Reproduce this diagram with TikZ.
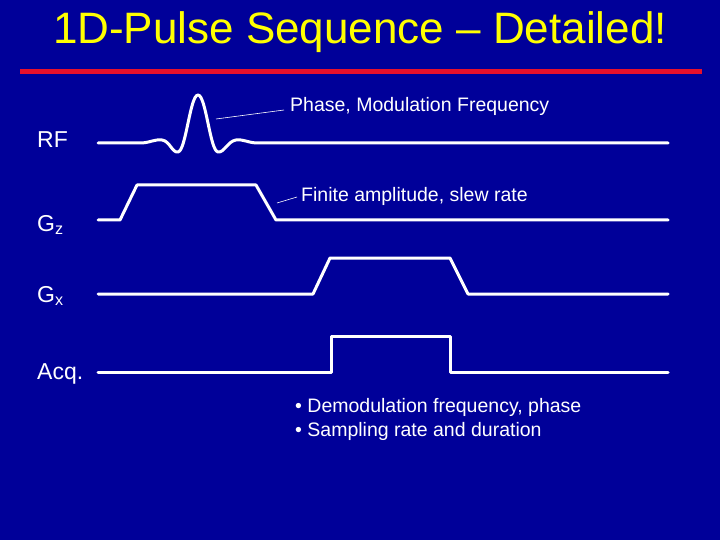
\documentclass[tikz,border=0pt]{standalone}
\usepackage{fontspec}
\setmainfont{Liberation Sans}
\definecolor{bg}{HTML}{000099}
\definecolor{ttl}{HTML}{FFFF00}
\definecolor{redbar}{HTML}{E8102A}
\begin{document}
\begin{tikzpicture}[x=1pt,y=-1pt,
  wave/.style={white,line width=3pt,line join=round,line cap=round},
  lbl/.style={white,font=\fontsize{23}{26}\selectfont,anchor=west,inner sep=0pt},
  note/.style={white,font=\fontsize{19.5}{24}\selectfont,anchor=west,inner sep=0pt},
  lead/.style={white,line width=0.6pt}]
\fill[bg] (0,0) rectangle (720,540);
\useasboundingbox (0,0) rectangle (720,540);
\node[ttl,font=\fontsize{44}{48}\selectfont] (title) at (360,32) {1D-Pulse Sequence -- Detailed!};
\draw[redbar,line width=5pt] (20,72) -- (702,72);
% RF
\node[lbl] (rf) at (37,140) {RF};
\draw[wave] (98,143) -- (140,143) .. controls (150,143) and (154,139) .. (162,140)
  .. controls (170,141) and (172,153) .. (178,152)
  .. controls (186,151) and (190,95) .. (198,95)
  .. controls (206,95) and (210,151) .. (218,152)
  .. controls (224,153) and (228,141) .. (236,140)
  .. controls (244,139) and (248,143) .. (258,143) -- (668,143);
% Gz
\node[lbl] (gz) at (37,225) {G\textsubscript{z}};
\draw[wave] (98,220) -- (120,220) -- (137,185) -- (256,185) -- (276,220) -- (668,220);
% Gx
\node[lbl] (gx) at (37,296) {G\textsubscript{x}};
\draw[wave] (98,294) -- (313,294) -- (330,258) -- (450,258) -- (468,294) -- (668,294);
% Acq
\node[lbl] (acq) at (37,374) {Acq.};
\draw[wave] (98,372) -- (331,372) -- (331,336) -- (450,336) -- (450,372) -- (668,372);
% notes
\node[note] (n1) at (290,106) {Phase, Modulation Frequency};
\draw[lead] (216,119) -- (284,110);
\node[note] (n2) at (301,196) {Finite amplitude, slew rate};
\draw[lead] (277,203) -- (297,197);
\node[note,align=left,anchor=west] (n3) at (295,419) {\textbullet\ Demodulation frequency, phase\\\textbullet\ Sampling rate and duration};
\end{tikzpicture}
\end{document}
